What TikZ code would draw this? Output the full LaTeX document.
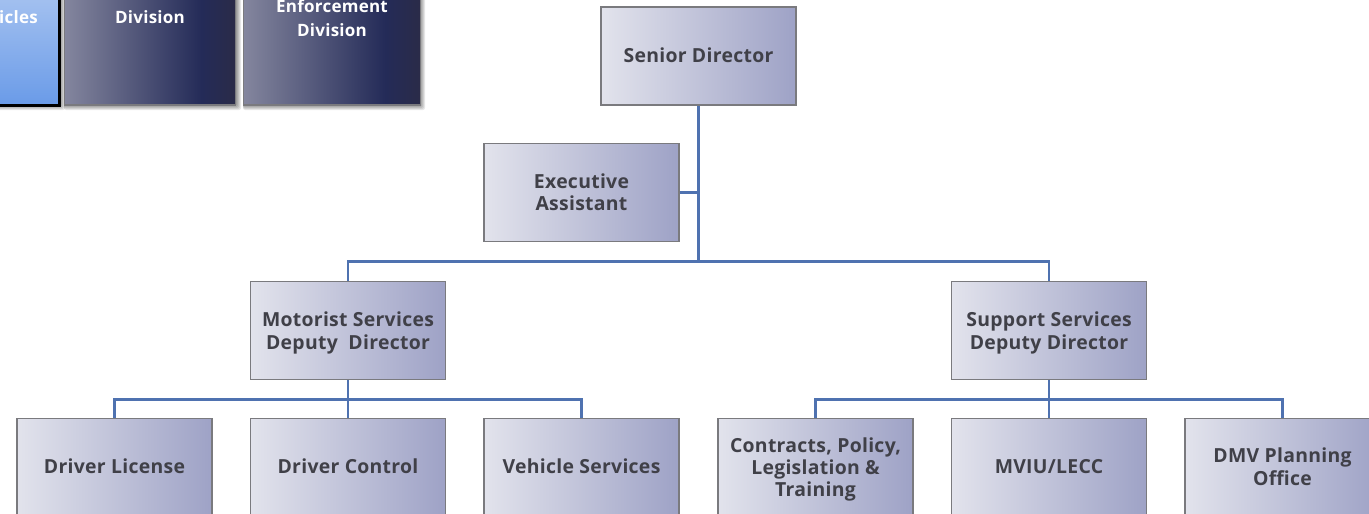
\documentclass[tikz,border=0pt]{standalone}
\usepackage{fontspec}
\setmainfont{Open Sans}[LetterSpace=1.5]
\usetikzlibrary{calc}
\definecolor{boxLine}{HTML}{7A7A7E}
\definecolor{wire}{HTML}{4F72B0}
\definecolor{ink}{HTML}{404048}
\definecolor{boxA}{HTML}{E2E3EC}
\definecolor{boxB}{HTML}{9EA2C6}
\definecolor{darkA}{HTML}{84869E}
\definecolor{darkB}{HTML}{242B58}
\definecolor{darkC}{HTML}{2A2B48}
\pgfdeclarehorizontalshading{orgshade}{100bp}{color(0bp)=(boxA); color(25bp)=(boxA); color(75bp)=(boxB); color(100bp)=(boxB)}
\pgfdeclarehorizontalshading{darkshade}{100bp}{color(0bp)=(darkA); color(25bp)=(darkA); color(65bp)=(darkB); color(75bp)=(darkC); color(100bp)=(darkC)}
\newcommand{\mv}[2]{\raisebox{#1}[\height][\depth]{#2}}
\tikzset{
  orgbox/.style={draw=boxLine,line width=1.5pt,shading=orgshade,minimum width=195pt,minimum height=98pt,inner sep=0pt,align=center,text=ink,font=\fontsize{19.4}{23}\selectfont\bfseries},
  topbox/.style={draw=boxLine,line width=1.8pt,shading=darkshade,inner sep=0pt},
  toptext/.style={text=white,align=center,font=\fontsize{17}{24}\selectfont\bfseries,inner sep=0pt},
  wireline/.style={draw=wire,line width=2.1pt},
  softshadow/.style={fill=black,opacity=.09,draw=none,rounded corners=2pt}
}
\begin{document}
\begin{tikzpicture}[x=1pt,y=-1pt]
\useasboundingbox (0,0) rectangle (1369,514);
\clip (0,0) rectangle (1369,514);
\fill[white] (0,0) rectangle (1369,514);
% soft shadows of the top row
\foreach \d in {0,1,2,3,4,5}{
  \fill[softshadow] (-62,-40) rectangle ($(60,105)+(\d,\d)$);
  \fill[softshadow] (64,-40) rectangle ($(236,105)+(\d,\d)$);
  \fill[softshadow] (243,-40) rectangle ($(420,105)+(\d,\d)$);
}
% top row
\node[minimum width=120pt,minimum height=144pt,inner sep=0pt,draw=black,line width=3pt,top color={rgb,255:red,182;green,205;blue,242},bottom color={rgb,255:red,106;green,155;blue,232}] (vehbox) at (-1,33) {};
\node[topbox,minimum width=171pt,minimum height=144pt] (divbox) at (150,33) {};
\node[topbox,minimum width=177pt,minimum height=144pt] (enfbox) at (332,33) {};
\node[toptext,anchor=west] (vehtext) at (-1,17) {icles};
\node[toptext] (divtext) at (150,17) {Division};
\node[toptext] (enftext) at (332,18) {Enforcement\\Division};
% connector levels
\coordinate (busa) at (698.5,261.5);
\coordinate (busb) at (348,399.5);
\coordinate (busc) at (1049,399.5);
% boxes
\node[orgbox] (senior) at (698.5,56) {\mv{1pt}{Senior Director}};
\node[orgbox] (exec) at (581.5,192.5) {Executive\\\mv{1pt}{Assistant}};
\node[orgbox] (motor) at (348,330.5) {\mv{-2pt}{Motorist Services}\\\mv{-2pt}{Deputy~~Director}};
\node[orgbox] (support) at (1049,330.5) {\mv{-2pt}{Support Services}\\\mv{-2pt}{Deputy Director}};
\node[orgbox] (license) at (114.5,467.5) {\mv{1pt}{Driver License}};
\node[orgbox] (control) at (348,467.5) {\mv{1pt}{Driver Control}};
\node[orgbox] (vehicle) at (581.5,467.5) {\mv{1pt}{Vehicle Services}};
\node[orgbox] (contracts) at (815.5,467.5) {\mv{-3pt}{Contracts, Policy,}\\\mv{-2pt}{Legislation \&}\\\mv{-1pt}{Training}};
\node[orgbox] (mviu) at (1049,467.5) {\mv{1pt}{MVIU/LECC}};
\node[orgbox] (planning) at (1282.5,467.5) {\mv{1pt}{DMV Planning}\\\mv{1pt}{Office}};
% connectors
\draw[wireline] (senior.south) -- (busa);
\draw[wireline] (exec.east) -- (exec.east -| senior.south);
\draw[wireline] (motor.north) -- (motor.north |- busa) -- (support.north |- busa) -- (support.north);
\draw[wireline] (motor.south) -- (control.north);
\draw[wireline] (license.north) -- (license.north |- busb) -- (vehicle.north |- busb) -- (vehicle.north);
\draw[wireline] (support.south) -- (mviu.north);
\draw[wireline] (contracts.north) -- (contracts.north |- busc) -- (planning.north |- busc) -- (planning.north);
\end{tikzpicture}
\end{document}
